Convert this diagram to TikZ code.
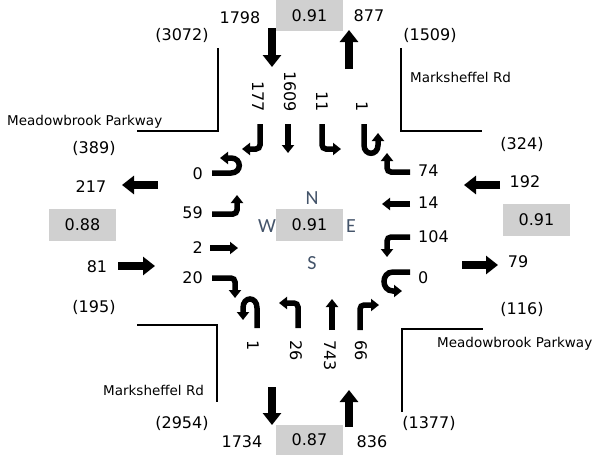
\documentclass[tikz,border=0pt]{standalone}
\usepackage{fontspec}
\setmainfont{DejaVu Sans}
\newfontfamily\compassfont{Carlito}
\usetikzlibrary{arrows.meta}
\definecolor{boxgray}{HTML}{D0D0D0}
\definecolor{compass}{HTML}{44546A}
\begin{document}
\begin{tikzpicture}[x=1pt,y=-1pt,
  num/.style={font=\fontsize{16}{19}\selectfont, inner sep=0pt},
  road/.style={font=\fontsize{13.5}{16}\selectfont, inner sep=0pt},
  volbox/.style={fill=boxgray, minimum width=67pt, minimum height=31pt, inner sep=0pt, font=\fontsize{16}{19}\selectfont},
  bigarrow/.style={line width=8pt, -{Triangle[width=18pt,length=12pt]}},
  turn/.style={line width=5.5pt, rounded corners=4pt, -{Triangle[width=12pt,length=8pt]}},
  uturn/.style={line width=5.5pt, -{Triangle[width=12pt,length=8pt]}},
  corner/.style={line width=1.8pt},
  cmp/.style={font=\compassfont\fontsize{20}{22}\selectfont, text=compass, inner sep=0pt}
]
\useasboundingbox (0,0) rectangle (592,455);

% ---- volume boxes ----
\node[volbox] (btop) at (309.5,15.5) {0.91};
\node[volbox, minimum height=32pt] (bleft) at (82.5,225) {0.88};
\node[volbox, minimum height=32pt] (bright) at (536.5,220) {0.91};
\node[volbox, minimum height=30pt] (bbot) at (309.5,440) {0.87};
\node[volbox, minimum height=32pt] (bcen) at (309.5,225) {0.91};

% ---- compass ----
\node[cmp] (cN) at (312,198) {N};
\node[cmp] (cW) at (267,226) {W};
\node[cmp] (cE) at (351,226) {E};
\node[cmp] (cS) at (312,263) {S};

% ---- corner lines ----
\draw[corner] (218,48) -- (218,131) -- (137,131);
\draw[corner] (401,48) -- (401,131) -- (482,131);
\draw[corner] (137,325) -- (217,325) -- (217,402);
\draw[corner] (402,412) -- (402,329) -- (483,329);

% ---- road names ----
\node[road, anchor=base west] (rd1) at (7,125) {Meadowbrook Parkway};
\node[road, anchor=base west] (rd2) at (410,82) {Marksheffel Rd};
\node[road, anchor=base west] (rd3) at (103,395) {Marksheffel Rd};
\node[road, anchor=base west] (rd4) at (437,347) {Meadowbrook Parkway};

% ---- top ----
\node[num] (t1) at (240,18) {1798};
\node[num] (t2) at (369,16) {877};
\node[num] (t3) at (182,35) {(3072)};
\node[num] (t4) at (430,35) {(1509)};
\draw[bigarrow] (272,28) -- (272,67);
\draw[bigarrow] (349,69) -- (349,30);
\node[num, rotate=-90, anchor=east] (s1) at (258,112) {177};
\node[num, rotate=-90, anchor=east] (s2) at (290,112) {1609};
\node[num, rotate=-90, anchor=east] (s3) at (322,112) {11};
\node[num, rotate=-90, anchor=east] (s4) at (362,112) {1};
\draw[turn] (260,124) -- (260,149) -- (242,149);
\draw[uturn] (288,124) -- (288,153);
\draw[turn] (322,124) -- (322,149) -- (341,149);
\draw[uturn] (364,124) -- (364,145) .. controls (364,156) and (378,156) .. (378,145) -- (378,133);

% ---- left ----
\node[num] (l1) at (94,148) {(389)};
\node[num] (l2) at (91,187) {217};
\node[num] (l3) at (97,267) {81};
\node[num] (l4) at (94,307) {(195)};
\draw[bigarrow] (158,185) -- (122,185);
\draw[bigarrow] (118,266) -- (155,266);
\node[num, anchor=east] (e1) at (203,174) {0};
\node[num, anchor=east] (e2) at (203,213) {59};
\node[num, anchor=east] (e3) at (203,248) {2};
\node[num, anchor=east] (e4) at (203,278) {20};
\draw[uturn] (212,173) -- (231,173) .. controls (242,173) and (242,158) .. (231,158) -- (220,158);
\draw[turn] (212,214) -- (237,214) -- (237,195);
\draw[uturn] (210,248) -- (238,248);
\draw[turn] (212,278) -- (235,278) -- (235,298);

% ---- right ----
\node[num] (r1) at (522,144) {(324)};
\node[num] (r2) at (525,182) {192};
\node[num] (r3) at (518,262) {79};
\node[num] (r4) at (522,309) {(116)};
\draw[bigarrow] (500,185) -- (464,185);
\draw[bigarrow] (462,265) -- (498,265);
\node[num, anchor=west] (w1) at (418,171) {74};
\node[num, anchor=west] (w2) at (418,203) {14};
\node[num, anchor=west] (w3) at (418,237) {104};
\node[num, anchor=west] (w4) at (418,278) {0};
\draw[turn] (410,172) -- (387,172) -- (387,153);
\draw[uturn] (410,204) -- (382,204);
\draw[turn] (410,237) -- (387,237) -- (387,257);
\draw[uturn] (410,272) -- (393,272) .. controls (381,272) and (381,291) .. (393,291) -- (402,291);

% ---- bottom ----
\node[num] (b1) at (182,423) {(2954)};
\node[num] (b2) at (242,442) {1734};
\node[num] (b3) at (372,442) {836};
\node[num] (b4) at (429,423) {(1377)};
\draw[bigarrow] (272,387) -- (272,425);
\draw[bigarrow] (349,427) -- (349,390);
\node[num, rotate=-90, anchor=west] (n1) at (253,340) {1};
\node[num, rotate=-90, anchor=west] (n2) at (296,340) {26};
\node[num, rotate=-90, anchor=west] (n3) at (330,340) {743};
\node[num, rotate=-90, anchor=west] (n4) at (361,340) {66};
\draw[uturn] (257,328) -- (257,308) .. controls (257,296) and (243,296) .. (243,308) -- (243,320);
\draw[turn] (298,328) -- (298,303) -- (279,303);
\draw[uturn] (332,330) -- (332,299);
\draw[turn] (360,330) -- (360,305) -- (379,305);
\end{tikzpicture}
\end{document}
